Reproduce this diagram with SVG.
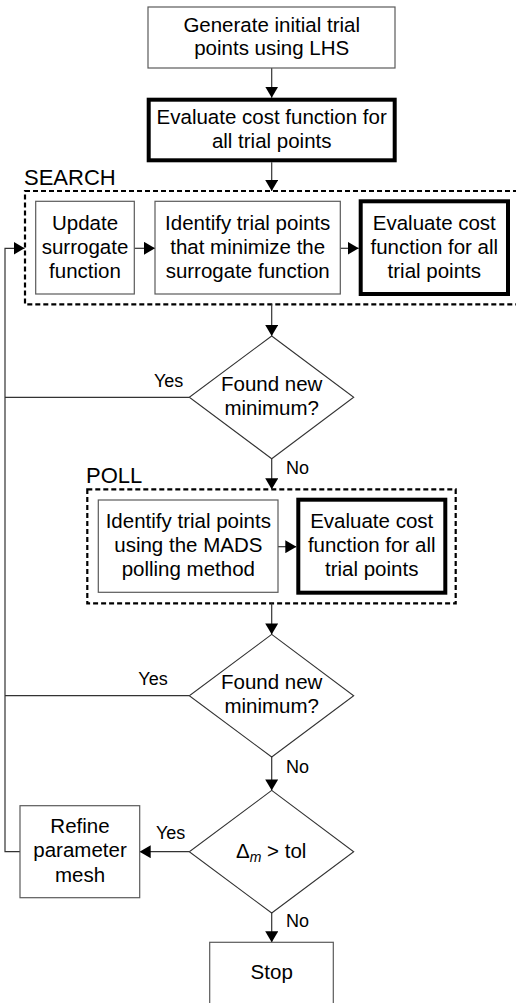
<svg xmlns="http://www.w3.org/2000/svg" width="516" height="1003" viewBox="0 0 516 1003">
<style>
text{font-family:"Liberation Sans",Arial,sans-serif;fill:#000}
.t{font-size:20.5px;text-anchor:middle}
.lbl{font-size:18px}
.grp{font-size:22px}
.box{fill:#fff;stroke:#5a5a5a;stroke-width:1.2}
.bold{fill:#fff;stroke:#000;stroke-width:4}
.dash{fill:none;stroke:#000;stroke-width:2.2;stroke-dasharray:5,3}
.dia{fill:#fff;stroke:#333;stroke-width:1.1}
.c{fill:none;stroke:#333;stroke-width:1.2}
</style>
<defs>
<marker id="ah" markerUnits="userSpaceOnUse" markerWidth="11" markerHeight="13" refX="11" refY="6.5" orient="auto">
<path d="M0,0 L11,6.5 L0,13 z" fill="#000"/>
</marker>
</defs>
<rect width="516" height="1003" fill="#fff"/>

<g id="search-group">
<rect class="dash" x="25" y="191" width="495" height="113.3"/>
<text class="grp" x="24" y="185">SEARCH</text>
</g>
<g id="poll-group">
<rect class="dash" x="87.3" y="489.3" width="368.4" height="114"/>
<text class="grp" x="86" y="482.7">POLL</text>
</g>

<g id="connectors">
<line class="c" x1="271.7" y1="68" x2="271.7" y2="97.7" marker-end="url(#ah)"/>
<line class="c" x1="271.7" y1="162.3" x2="271.7" y2="191" marker-end="url(#ah)"/>
<line class="c" x1="134.3" y1="248.3" x2="155" y2="248.3" marker-end="url(#ah)"/>
<line class="c" x1="340.3" y1="248.3" x2="358.7" y2="248.3" marker-end="url(#ah)"/>
<line class="c" x1="271.7" y1="304.3" x2="271.7" y2="336" marker-end="url(#ah)"/>
<line class="c" x1="189.3" y1="397.3" x2="5" y2="397.3"/>
<line class="c" x1="271.7" y1="458.7" x2="271.7" y2="489.3" marker-end="url(#ah)"/>
<line class="c" x1="278" y1="546.7" x2="296.3" y2="546.7" marker-end="url(#ah)"/>
<line class="c" x1="271.7" y1="603.3" x2="271.7" y2="634.4" marker-end="url(#ah)"/>
<line class="c" x1="189.3" y1="695.7" x2="5" y2="695.7"/>
<line class="c" x1="271.7" y1="757" x2="271.7" y2="790.4" marker-end="url(#ah)"/>
<line class="c" x1="189.3" y1="851.7" x2="139.7" y2="851.7" marker-end="url(#ah)"/>
<polyline class="c" points="20,851.7 5,851.7 5,248.3 24.5,248.3" marker-end="url(#ah)"/>
<line class="c" x1="271.7" y1="913" x2="271.7" y2="942.3" marker-end="url(#ah)"/>
<text class="lbl" x="154" y="387">Yes</text>
<text class="lbl" x="286" y="474">No</text>
<text class="lbl" x="138.3" y="685">Yes</text>
<text class="lbl" x="286" y="773.3">No</text>
<text class="lbl" x="156" y="839">Yes</text>
<text class="lbl" x="286" y="927.3">No</text>
</g>

<g id="init">
<rect class="box" x="148" y="7" width="247" height="61"/>
<text class="t" x="271.7" y="31.5">Generate initial trial</text>
<text class="t" x="271.7" y="55">points using LHS</text>
</g>
<g id="eval1">
<rect class="bold" x="148.7" y="99.7" width="246" height="60.6"/>
<text class="t" x="271.7" y="124">Evaluate cost function for</text>
<text class="t" x="271.7" y="147.6">all trial points</text>
</g>
<g id="update">
<rect class="box" x="35.7" y="201.3" width="98.6" height="92.7"/>
<text class="t" x="85" y="230">Update</text>
<text class="t" x="85" y="254.3">surrogate</text>
<text class="t" x="85" y="278.3">function</text>
</g>
<g id="identify">
<rect class="box" x="155" y="201.3" width="185.3" height="92.7"/>
<text class="t" x="247.7" y="230">Identify trial points</text>
<text class="t" x="247.7" y="254.3">that minimize the</text>
<text class="t" x="247.7" y="278.3">surrogate function</text>
</g>
<g id="eval2">
<rect class="bold" x="360.7" y="201.3" width="147.3" height="92.7"/>
<text class="t" x="434.3" y="230">Evaluate cost</text>
<text class="t" x="434.3" y="254.3">function for all</text>
<text class="t" x="434.3" y="278.3">trial points</text>
</g>
<g id="decision1">
<polygon class="dia" points="271.7,336 353.7,397.3 271.7,458.7 189.3,397.3"/>
<text class="t" x="271.7" y="390.7">Found new</text>
<text class="t" x="271.7" y="415">minimum?</text>
</g>
<g id="mads">
<rect class="box" x="98.3" y="500" width="179.7" height="92.3"/>
<text class="t" x="188.3" y="528.3">Identify trial points</text>
<text class="t" x="188.3" y="552.3">using the MADS</text>
<text class="t" x="188.3" y="576">polling method</text>
</g>
<g id="eval3">
<rect class="bold" x="298.3" y="499.7" width="147" height="93"/>
<text class="t" x="371.7" y="528.3">Evaluate cost</text>
<text class="t" x="371.7" y="552.3">function for all</text>
<text class="t" x="371.7" y="576">trial points</text>
</g>
<g id="decision2">
<polygon class="dia" points="271.7,634.4 353.7,695.7 271.7,757 189.3,695.7"/>
<text class="t" x="271.7" y="689.3">Found new</text>
<text class="t" x="271.7" y="713.3">minimum?</text>
</g>
<g id="decision3">
<polygon class="dia" points="271.7,790.4 353.7,851.7 271.7,913 189.3,851.7"/>
<text x="236" y="858.3" font-size="20.5">Δ<tspan font-size="14" font-style="italic" dy="4">m</tspan><tspan dy="-4"> &gt; tol</tspan></text>
</g>
<g id="refine">
<rect class="box" x="20" y="805.7" width="119.7" height="92"/>
<text class="t" x="80" y="832.7">Refine</text>
<text class="t" x="80" y="857.3">parameter</text>
<text class="t" x="80" y="881.7">mesh</text>
</g>
<g id="stop">
<rect class="box" x="209.7" y="942.3" width="123.6" height="75"/>
<text class="t" x="271.7" y="979.3">Stop</text>
</g>
</svg>
